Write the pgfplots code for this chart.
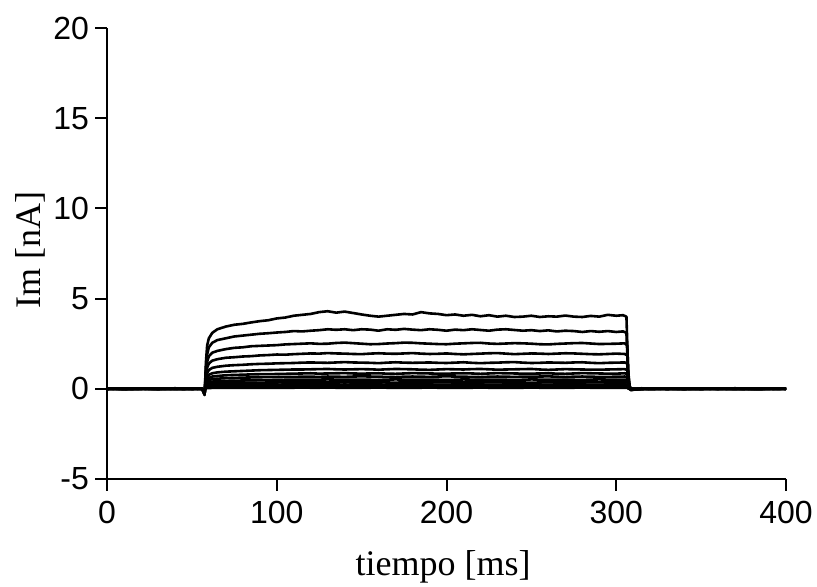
\documentclass[border=0pt]{standalone}
\usepackage{fontspec}
\setmainfont{Liberation Serif}
\newfontfamily\arial{Liberation Sans}
\usepackage{pgfplots}
\usepackage{pgfplotstable}
\pgfplotsset{compat=1.18}

\pgfplotstableread{
t c3 c4 c5 c6 c7 c8 c9 c10 c11 c12 c13
0 0.02 -0.01 0.01 0.0 -0.02 0.01 0.0 0.02 -0.01 0.0 0.01
15 -0.02 0.01 0.0 0.02 0.01 -0.01 0.02 0.0 0.01 -0.02 0.0
30 0.01 -0.02 0.02 -0.01 0.0 0.02 -0.01 0.01 0.0 0.01 -0.01
45 -0.01 0.02 -0.01 0.01 0.02 0.0 0.01 -0.02 0.01 0.0 0.02
56 0.0 0.0 0.01 -0.01 0.0 0.01 0.0 0.0 -0.01 0.01 0.0
57.5 -0.3 -0.28 -0.25 -0.22 -0.2 -0.18 -0.15 -0.12 -0.1 -0.08 -0.05
58.3 1.0 0.78 0.58 0.43 0.34 0.27 0.2 0.14 0.1 0.06 0.02
59 1.5 1.17 0.87 0.65 0.51 0.4 0.3 0.22 0.14 0.08 0.04
60 1.8 1.4 1.04 0.78 0.61 0.48 0.36 0.26 0.17 0.1 0.04
62 2.0 1.56 1.16 0.86 0.68 0.54 0.4 0.29 0.19 0.11 0.05
65 2.1 1.64 1.22 0.91 0.71 0.56 0.42 0.3 0.2 0.12 0.05
70 2.2 1.72 1.28 0.95 0.75 0.59 0.44 0.32 0.21 0.12 0.05
75 2.27 1.75 1.31 0.97 0.77 0.6 0.45 0.32 0.22 0.13 0.05
80 2.3 1.79 1.33 0.99 0.78 0.62 0.46 0.33 0.22 0.13 0.06
85 2.36 1.81 1.36 1.01 0.8 0.63 0.47 0.34 0.23 0.12 0.06
90 2.38 1.85 1.38 1.03 0.81 0.64 0.48 0.34 0.23 0.13 0.06
95 2.4 1.87 1.39 1.04 0.81 0.65 0.48 0.35 0.22 0.14 0.05
100 2.42 1.9 1.41 1.05 0.82 0.65 0.49 0.35 0.23 0.14 0.06
105 2.46 1.89 1.42 1.06 0.83 0.66 0.5 0.36 0.24 0.13 0.06
110 2.48 1.92 1.43 1.07 0.84 0.66 0.5 0.36 0.24 0.14 0.06
115 2.5 1.94 1.45 1.07 0.85 0.67 0.51 0.35 0.24 0.15 0.07
120 2.52 1.96 1.46 1.08 0.86 0.67 0.5 0.36 0.24 0.14 0.06
125 2.49 1.95 1.45 1.09 0.84 0.66 0.51 0.36 0.25 0.14 0.06
130 2.5 1.98 1.44 1.1 0.85 0.68 0.52 0.37 0.25 0.15 0.07
135 2.54 1.96 1.46 1.08 0.86 0.67 0.51 0.36 0.24 0.14 0.06
140 2.56 1.95 1.48 1.07 0.87 0.66 0.5 0.35 0.23 0.13 0.05
145 2.53 1.93 1.46 1.08 0.85 0.68 0.5 0.36 0.24 0.14 0.06
150 2.5 1.92 1.45 1.09 0.84 0.69 0.51 0.37 0.25 0.15 0.06
155 2.47 1.95 1.44 1.08 0.85 0.68 0.5 0.36 0.24 0.14 0.06
160 2.48 1.97 1.42 1.06 0.86 0.67 0.49 0.36 0.24 0.14 0.07
165 2.51 1.95 1.45 1.08 0.84 0.66 0.51 0.35 0.23 0.14 0.06
170 2.53 1.94 1.47 1.1 0.83 0.65 0.52 0.34 0.23 0.13 0.05
175 2.56 1.96 1.45 1.09 0.85 0.67 0.51 0.36 0.24 0.14 0.06
180 2.55 1.98 1.44 1.08 0.87 0.68 0.5 0.37 0.25 0.15 0.06
185 2.52 1.95 1.45 1.06 0.86 0.67 0.5 0.36 0.24 0.14 0.06
190 2.5 1.93 1.46 1.05 0.85 0.66 0.51 0.35 0.24 0.14 0.07
195 2.48 1.94 1.44 1.07 0.84 0.68 0.5 0.36 0.23 0.13 0.06
200 2.47 1.96 1.43 1.09 0.84 0.69 0.49 0.36 0.23 0.13 0.05
205 2.5 1.93 1.45 1.08 0.85 0.68 0.5 0.37 0.24 0.14 0.06
210 2.52 1.91 1.47 1.07 0.86 0.67 0.52 0.37 0.25 0.15 0.06
215 2.54 1.93 1.44 1.09 0.85 0.66 0.51 0.36 0.24 0.14 0.06
220 2.55 1.95 1.42 1.1 0.83 0.65 0.5 0.35 0.24 0.14 0.07
225 2.51 1.97 1.44 1.08 0.85 0.67 0.51 0.36 0.23 0.13 0.06
230 2.49 1.98 1.45 1.06 0.87 0.68 0.51 0.36 0.23 0.13 0.05
235 2.51 1.95 1.47 1.07 0.86 0.67 0.5 0.37 0.24 0.14 0.06
240 2.53 1.92 1.48 1.08 0.85 0.66 0.49 0.37 0.25 0.15 0.06
245 2.52 1.94 1.45 1.09 0.84 0.67 0.5 0.35 0.24 0.14 0.06
250 2.5 1.96 1.43 1.1 0.84 0.67 0.52 0.34 0.24 0.14 0.07
255 2.47 1.95 1.44 1.07 0.85 0.68 0.51 0.35 0.23 0.14 0.06
260 2.46 1.93 1.46 1.05 0.86 0.69 0.5 0.36 0.23 0.13 0.05
265 2.49 1.95 1.45 1.07 0.84 0.67 0.5 0.37 0.24 0.14 0.06
270 2.51 1.97 1.44 1.09 0.83 0.65 0.51 0.37 0.25 0.15 0.06
275 2.53 1.96 1.46 1.08 0.85 0.67 0.5 0.36 0.24 0.14 0.06
280 2.54 1.94 1.47 1.07 0.87 0.68 0.49 0.35 0.24 0.14 0.07
285 2.51 1.92 1.44 1.06 0.86 0.67 0.51 0.36 0.23 0.13 0.06
290 2.48 1.91 1.42 1.06 0.85 0.66 0.52 0.36 0.23 0.13 0.05
295 2.49 1.93 1.44 1.07 0.84 0.66 0.51 0.37 0.24 0.14 0.06
300 2.5 1.95 1.45 1.08 0.84 0.67 0.5 0.37 0.25 0.15 0.06
305 2.52 1.93 1.46 1.09 0.86 0.68 0.51 0.36 0.24 0.14 0.06
306.5 2.4 1.85 1.4 1.04 0.82 0.65 0.49 0.35 0.23 0.13 0.06
307.3 0.3 0.2 0.15 0.1 0.08 0.06 0.04 0.03 0.02 0.01 0.0
308.5 -0.08 -0.06 -0.05 -0.04 -0.03 -0.02 -0.02 -0.01 -0.01 0.0 0.0
315 0.02 0.0 0.01 -0.01 0.02 0.0 0.01 -0.02 0.0 0.01 -0.01
330 -0.01 0.02 -0.02 0.01 0.0 0.02 -0.01 0.0 0.01 -0.01 0.02
350 0.02 -0.01 0.01 -0.02 0.01 0.0 0.02 -0.01 0.0 0.02 -0.01
370 -0.02 0.01 0.0 0.02 -0.01 0.01 0.0 0.02 -0.02 0.0 0.01
385 0.01 -0.02 0.02 0.0 0.01 -0.01 0.01 0.0 0.01 -0.01 0.0
400 0.0 0.01 -0.01 0.01 0.0 0.01 -0.01 0.01 0.0 0.01 0.0
}\lowtraces

\begin{document}
\begin{tikzpicture}
\path[use as bounding box] (-53.5pt,-54pt) rectangle (355pt,239.5pt);
\begin{axis}[
  at={(0,0)}, anchor=south west,
  scale only axis, width=339.5pt, height=225.5pt,
  xmin=0, xmax=400, ymin=-5, ymax=20,
  axis x line*=bottom, axis y line*=left,
  axis line style={-, line width=1pt},
  xtick={0,100,200,300,400}, ytick={-5,0,5,10,15,20},
  tick align=outside, major tick length=6pt,
  tick style={line width=1pt, black},
  /pgf/number format/assume math mode=true,
  tick label style={font=\arial\fontsize{16}{18}\selectfont},
  xticklabel style={yshift=-1.5pt},
  yticklabel style={xshift=0.5pt},
  xlabel={tiempo [ms]}, ylabel={Im [nA]},
  label style={font=\fontsize{18}{20}\selectfont},
  xlabel style={at={([yshift=-44pt]axis description cs:0.495,0)}, anchor=center},
  ylabel style={at={([xshift=-38.5pt]axis description cs:0,0.508)}, anchor=center},
  cycle list={{black, solid, no markers}},
  every axis plot post/.append style={line width=1.3pt, line join=round, black, no markers},
]
\addplot coordinates {(0,0.02)(10,-0.03)(20,0.01)(30,-0.02)(40,0.03)(50,-0.01)(56,0.0)(57.5,-0.35)(58.3,1.5)(59,2.4)(60,2.8)(62,3.1)(65,3.3)(70,3.45)(75,3.55)(80,3.6)(85,3.68)(90,3.75)(95,3.8)(100,3.9)(105,3.95)(110,4.05)(115,4.1)(120,4.15)(125,4.25)(130,4.3)(135,4.22)(140,4.28)(145,4.2)(150,4.12)(155,4.05)(160,4.0)(165,4.05)(170,4.1)(175,4.15)(180,4.12)(185,4.25)(190,4.18)(195,4.15)(200,4.08)(205,4.12)(210,4.05)(215,4.1)(220,4.02)(225,4.08)(230,4.0)(235,4.05)(240,3.98)(245,4.0)(250,4.05)(255,3.98)(260,4.02)(265,4.0)(270,4.06)(275,4.0)(280,3.98)(285,4.04)(290,4.0)(295,4.1)(300,4.05)(304,4.08)(306,4.0)(307,1.0)(308,0.1)(310,-0.05)(315,0.03)(320,-0.02)(330,0.02)(340,-0.03)(350,0.02)(360,-0.01)(370,0.03)(380,-0.02)(390,0.01)(400,0.0)};
\addplot coordinates {(0,-0.01)(20,0.02)(40,-0.02)(56,0.01)(57.5,-0.32)(58.3,1.2)(59,1.9)(60,2.3)(62,2.55)(65,2.7)(70,2.8)(75,2.9)(80,2.95)(85,3.0)(90,3.05)(95,3.08)(100,3.12)(105,3.15)(110,3.2)(115,3.18)(120,3.22)(125,3.25)(130,3.3)(135,3.27)(140,3.3)(145,3.25)(150,3.3)(155,3.28)(160,3.22)(165,3.3)(170,3.27)(175,3.32)(180,3.28)(185,3.25)(190,3.3)(195,3.27)(200,3.22)(205,3.28)(210,3.25)(215,3.3)(220,3.26)(225,3.22)(230,3.28)(235,3.3)(240,3.26)(245,3.22)(250,3.25)(255,3.2)(260,3.24)(265,3.18)(270,3.22)(275,3.2)(280,3.15)(285,3.2)(290,3.16)(295,3.2)(300,3.15)(304,3.18)(306,3.1)(307,0.8)(308,0.05)(312,-0.04)(320,0.02)(340,-0.01)(360,0.02)(380,-0.02)(400,0.01)};
\addplot table[x=t,y=c3] {\lowtraces};
\addplot table[x=t,y=c4] {\lowtraces};
\addplot table[x=t,y=c5] {\lowtraces};
\addplot table[x=t,y=c6] {\lowtraces};
\addplot table[x=t,y=c7] {\lowtraces};
\addplot table[x=t,y=c8] {\lowtraces};
\addplot table[x=t,y=c9] {\lowtraces};
\addplot table[x=t,y=c10] {\lowtraces};
\addplot table[x=t,y=c11] {\lowtraces};
\addplot table[x=t,y=c12] {\lowtraces};
\addplot table[x=t,y=c13] {\lowtraces};
\end{axis}
\end{tikzpicture}
\end{document}
